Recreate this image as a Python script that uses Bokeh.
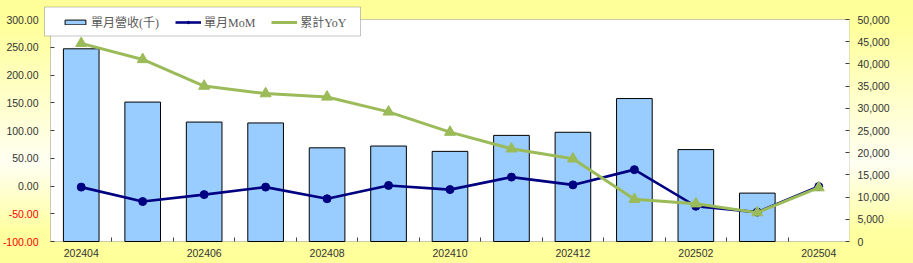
import numpy as np
from bokeh.plotting import figure
from bokeh.models import (Range1d, LinearAxis, FixedTicker, NumeralTickFormatter,
                          CustomJSTickFormatter, Legend, LegendItem, BoxAnnotation)
from bokeh.embed import file_html
from bokeh.resources import INLINE

# ---- data ----
months = ["202404", "202405", "202406", "202407", "202408", "202409", "202410",
          "202411", "202412", "202501", "202502", "202503", "202504"]
revenue = [43400, 31400, 26900, 26700, 21100, 21500, 20300, 23900, 24600,
           32200, 20700, 10900, None]
mom = [-2, -28, -15.5, -2, -23, 1, -6.5, 16, 2, 29.5, -36.5, -47, -1]
yoy = [257, 228, 180, 166.5, 160.5, 133.5, 97, 67, 49, -24, -32, -48, -3]
left_ticks = [-100, -50, 0, 50, 100, 150, 200, 250, 300]
right_ticks = [0, 5000, 10000, 15000, 20000, 25000, 30000, 35000, 40000, 45000, 50000]

x = np.arange(len(months))
rev = np.array([np.nan if v is None else v for v in revenue], dtype=float)
n = len(months)

# ---- layout (pixels) ----
W, H = 913, 263
PLOT_LEFT, RIGHT = 50, 64          # white plot area starts at x=50; right axis panel 64 px
PLOT_TOP, PLOT_BOTTOM = 19, 241    # white plot area vertical extent
frame_w = W - RIGHT                # frame spans from canvas left edge
frame_h = H                        # frame spans full canvas height
cat_px = (frame_w - PLOT_LEFT) / n
x_start = -0.5 - PLOT_LEFT / cat_px
plot_h = PLOT_BOTTOM - PLOT_TOP
L0, L1 = -100, 300
R0, R1 = 0, 50000
def ext(a, b):
    per = (b - a) / plot_h
    return a - per * (H - PLOT_BOTTOM), b + per * PLOT_TOP
left_lo, left_hi = ext(L0, L1)
right_lo, right_hi = ext(R0, R1)

TICK_FONT = "Liberation Sans"
LEG_FONT = "Liberation Serif, Noto Sans CJK TC"

p = figure(width=W, height=H, output_backend="svg", toolbar_location=None,
           x_range=Range1d(x_start, n - 0.5), y_range=Range1d(left_lo, left_hi),
           min_border_left=0, min_border_right=RIGHT, min_border_top=0, min_border_bottom=0,
           background_fill_color=None, border_fill_color=None, outline_line_color=None,
           styles={"background": "linear-gradient(to bottom, #FFFF99 0%, #FFFF9C 10%, #FFFFF2 62%, #FFFFA0 88%, #FFFF99 100%)"})
p.grid.visible = False
p.extra_y_ranges = {"right": Range1d(right_lo, right_hi)}

# white plot area
p.add_layout(BoxAnnotation(left=-0.5, right=n - 0.5, bottom=L0, top=L1,
                           fill_color="white", fill_alpha=1,
                           line_color="#4d4d4d", line_width=1, level="underlay"))

bars = p.vbar(x=x, top=rev, bottom=0, width=0.58, y_range_name="right",
              fill_color="#99CCFF", line_color="black", line_width=1)
mom_line = p.line(x, mom, line_color="#000080", line_width=2.6)
mom_pts = p.scatter(x, mom, marker="circle", size=8, fill_color="#000080", line_color="#000080")
yoy_line = p.line(x, yoy, line_color="#9BBB59", line_width=3)
yoy_pts = p.scatter(x, yoy, marker="triangle", size=11, fill_color="#9BBB59", line_color="#9BBB59")

# x axis, pinned to the plot area's bottom edge
xa = p.xaxis[0]
xa.fixed_location = L0
xa.ticker = FixedTicker(ticks=list(range(0, n, 2)),
                        minor_ticks=[i + 0.5 for i in range(n - 1)])
xa.formatter = CustomJSTickFormatter(args=dict(labels=months),
                                     code="return labels[Math.round(tick)] || '';")
xa.major_tick_in = 0
xa.major_tick_out = 0
xa.minor_tick_in = 4
xa.minor_tick_out = 0
xa.minor_tick_line_color = "#404040"
xa.axis_line_color = None
xa.major_label_standoff = 7
xa.major_label_text_font = TICK_FONT
xa.major_label_text_font_size = "10.5px"
xa.major_label_text_color = "#333333"

# left axis (non-negative labels), pinned to the plot area's left edge
ya = p.yaxis[0]
ya.fixed_location = -0.5
ya.ticker = FixedTicker(ticks=left_ticks)
ya.formatter = CustomJSTickFormatter(code="return tick < 0 ? '' : tick.toFixed(2);")
ya.major_tick_in = 4
ya.major_tick_out = 0
ya.minor_tick_line_color = None
ya.axis_line_color = None
ya.major_tick_line_color = "#404040"
ya.major_label_standoff = 12
ya.major_label_text_font = TICK_FONT
ya.major_label_text_font_size = "10.5px"
ya.major_label_text_color = "#333333"

# negative labels in red
neg = LinearAxis(ticker=FixedTicker(ticks=[t for t in left_ticks if t < 0]),
                 formatter=CustomJSTickFormatter(code="return tick.toFixed(2);"),
                 fixed_location=-0.5)
neg.axis_line_color = None
neg.major_tick_line_color = None
neg.minor_tick_line_color = None
neg.major_tick_in = 0
neg.major_tick_out = 0
neg.major_label_standoff = 12
neg.major_label_text_font = TICK_FONT
neg.major_label_text_font_size = "10.5px"
neg.major_label_text_color = "#FF0000"
p.add_layout(neg, "left")

# right axis
ra = LinearAxis(y_range_name="right", ticker=FixedTicker(ticks=right_ticks),
                formatter=NumeralTickFormatter(format="0,0"))
ra.major_tick_in = 4
ra.major_tick_out = 0
ra.minor_tick_line_color = None
ra.axis_line_color = None
ra.major_tick_line_color = "#404040"
ra.major_label_standoff = 8
ra.major_label_text_font = TICK_FONT
ra.major_label_text_font_size = "10.5px"
ra.major_label_text_color = "#333333"
p.add_layout(ra, "right")

# legend frame (white box) and legend items
p.add_layout(BoxAnnotation(left=44, right=360, top=6.5, bottom=35.5,
                           left_units="canvas", right_units="canvas",
                           top_units="canvas", bottom_units="canvas",
                           fill_color="white", fill_alpha=1,
                           line_color="#404040", line_width=1))

legend = Legend(items=[
    LegendItem(label="單月營收(千)", renderers=[bars]),
    LegendItem(label="單月MoM", renderers=[mom_line, mom_pts]),
    LegendItem(label="累計YoY", renderers=[yoy_line, yoy_pts]),
], orientation="horizontal", location=(62, frame_h - 31),
    padding=0, spacing=16, margin=0, label_standoff=3,
    glyph_width=26, glyph_height=6, label_height=19,
    label_text_font=LEG_FONT, label_text_font_size="12px", label_text_color="#595959",
    border_line_color=None, background_fill_alpha=0)
p.add_layout(legend, "center")

open("out.html", "w").write(file_html(p, INLINE))
